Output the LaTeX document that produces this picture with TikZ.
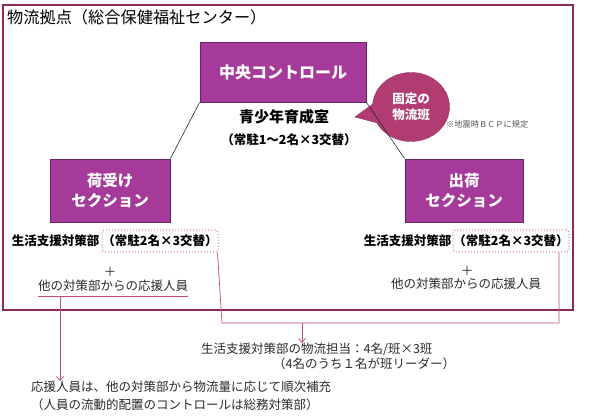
\documentclass[tikz,border=0pt]{standalone}
\usepackage{fontspec}
\setmainfont{Noto Sans CJK JP}
\usetikzlibrary{arrows.meta, positioning, calc, shapes.callouts}
\definecolor{cbox}{HTML}{A63A9B}
\definecolor{cboxline}{HTML}{6A2462}
\definecolor{ccall}{HTML}{B03C72}
\definecolor{cframe}{HTML}{8E2A58}
\definecolor{clink}{HTML}{C4487E}
\definecolor{cdot}{HTML}{D8789F}
\definecolor{ctext}{HTML}{2A2A2A}

\begin{document}
\begin{tikzpicture}[x=1pt, y=-1pt,
    box/.style={rectangle, draw=cboxline, fill=cbox, line width=0.8pt,
                text=white, align=center, inner sep=0pt,
                font=\fontsize{15.5}{20}\selectfont\bfseries},
    bubble/.style={ellipse callout, fill=ccall, draw=ccall!85!black,
                minimum width=77, minimum height=69, inner sep=0pt,
                callout pointer arc=32, text=white, align=center,
                font=\fontsize{12.5}{16}\selectfont\bfseries},
    stay/.style={rectangle, rounded corners=3pt, draw=cdot, dotted,
                line width=1pt, minimum width=116, minimum height=22,
                inner sep=0pt, font=\fontsize{12.5}{15}\selectfont\bfseries},
    dept/.style={inner sep=0pt, font=\fontsize{12.5}{15}\selectfont\bfseries},
    plain/.style={inner sep=0pt, text=ctext, align=left,
                font=\fontsize{12.5}{15}\selectfont},
    link/.style={draw=clink, line width=0.7pt},
    arrow/.style={link, -{Straight Barb[length=4pt, width=7pt]}}
]
\useasboundingbox (0,0) rectangle (597,419);

\draw[cframe, line width=1.5pt] (3,5) rectangle (573,310);
\node[anchor=west, inner sep=0pt, font=\fontsize{16.2}{19}\selectfont]
    (title) at (7,17) {物流拠点（総合保健福祉センター）};

\node[box, minimum width=166, minimum height=60,
      font=\fontsize{16}{20}\selectfont\bfseries] (ctrl) at (283,72) {中央コントロール};
\node[dept, font=\fontsize{15}{18}\selectfont\bfseries] (youth) at (284,117) {青少年育成室};
\node[dept] (youthstay) at (289,140) {（常駐1～2名×3交替）};

\coordinate (tip) at (355,117);
\node[bubble, callout absolute pointer=(tip)] (fixed) at (411,107) {固定の\\物流班};
\node[anchor=west, inner sep=0pt, text=ctext!80,
      font=\fontsize{8.2}{10}\selectfont] (bcp) at (446,124) {※地震時ＢＣＰに規定};

\node[box, minimum width=120, minimum height=63] (recv) at (110,190.5) {荷受け\\セクション};
\node[box, minimum width=118, minimum height=63] (ship) at (464,190.5) {出荷\\セクション};

\draw[ctext, line width=0.6pt] (ctrl.south west) -- (recv.north east);
\draw[ctext, line width=0.6pt] (ctrl.south east) -- (ship.north west);

\node[stay] (stayL) at (160,241) {（常駐2名×3交替）};
\node[dept, left=2pt of stayL] (deptL) {生活支援対策部};
\node[plain] (plusL) at (110,272) {＋};
\node[plain] (helpL) at (113,286) {他の対策部からの応援人員};

\node[stay] (stayR) at (511,241) {（常駐2名×3交替）};
\node[dept, left=1pt of stayR] (deptR) {生活支援対策部};
\node[plain] (plusR) at (467,271) {＋};
\node[plain] (helpR) at (466,284) {他の対策部からの応援人員};

\draw[link] ($(helpL.south west)+(0,4)$) -- ($(helpL.south east)+(0,4)$);

\coordinate (jL) at (222,323);
\coordinate (jR) at (559,323);
\coordinate (jM) at (302,323);
\coordinate (uline) at (60,297);

\draw[link] ([xshift=-1pt]stayL.south east) -- (jL) -- (jR) -- (jR |- stayR.south);

\node[plain, anchor=north west] (staff) at (201,343)
    {生活支援対策部の物流担当：4名/班×3班\\
     \hspace*{72pt}（4名のうち１名が班リーダー）};
\node[plain, anchor=north west, font=\fontsize{12.5}{18}\selectfont] (note) at (31,381)
    {応援人員は、他の対策部から物流量に応じて順次補充\\
     （人員の流動的配置のコントロールは総務対策部）};

\draw[arrow] (jM) -- (jM |- staff.north);
\draw[arrow] (uline) -- (uline |- note.north);
\end{tikzpicture}
\end{document}
